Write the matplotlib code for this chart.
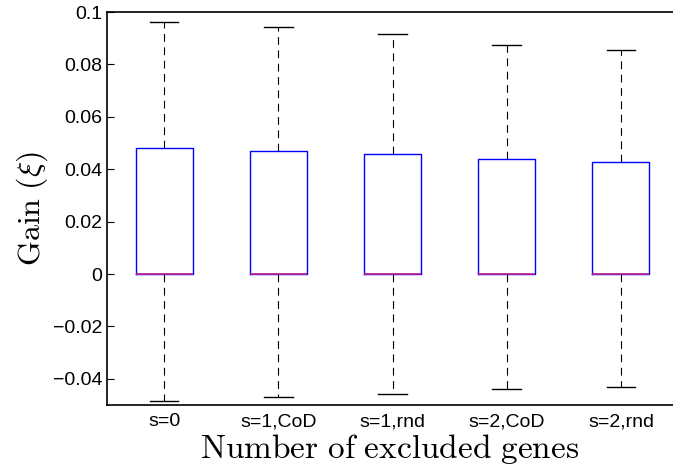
import numpy as np
import matplotlib
matplotlib.use("Agg")
import matplotlib.pyplot as plt

# box statistics
labels = ["s=0", "s=1,CoD", "s=1,rnd", "s=2,CoD", "s=2,rnd"]
whis_hi = [0.0963, 0.0944, 0.0916, 0.0875, 0.0854]
q3 = [0.0480, 0.0471, 0.0457, 0.0438, 0.0427]
med = [0.0, 0.0, 0.0, 0.0, 0.0]
q1 = [0.0, 0.0, 0.0, 0.0, 0.0]
whis_lo = [-0.0485, -0.0471, -0.0457, -0.0440, -0.0430]

plt.rcParams['font.family'] = ['Liberation Sans', 'DejaVu Sans']
plt.rcParams['mathtext.fontset'] = 'cm'

stats = []
for i in range(len(labels)):
    stats.append(dict(label=labels[i], whislo=whis_lo[i], q1=q1[i], med=med[i],
                      q3=q3[i], whishi=whis_hi[i], fliers=[]))

fig = plt.figure(figsize=(6.73, 4.65), dpi=100)
# the original is cropped on the right, so the axes run up to the edge
ax = fig.add_axes([107/673, 1 - 405/465, 566/673, 393/465])

ax.bxp(stats, positions=np.arange(1, 6), widths=0.5, showfliers=False,
       boxprops=dict(color='blue', linewidth=1),
       medianprops=dict(color='#c0208a', linewidth=1.2),
       whiskerprops=dict(color='black', linestyle=(0, (7, 5)), linewidth=0.8),
       capprops=dict(color='black', linewidth=1),
       capwidths=0.25)

ax.set_xlim(0.5, 5.456)
ax.set_ylim(-0.05, 0.1)
ax.set_yticks([-0.04, -0.02, 0, 0.02, 0.04, 0.06, 0.08, 0.1])
ax.set_yticklabels(['\u22120.04', '\u22120.02', '0', '0.02', '0.04', '0.06', '0.08', '0.1'])
ax.tick_params(direction='in', length=5, labelsize=14, width=0.8)
ax.tick_params(axis='y', right=False, left=True)
ax.tick_params(axis='x', length=0, pad=6, top=False)
ax.spines['right'].set_visible(False)
for sp in ax.spines.values():
    sp.set_linewidth(1.2)

ax.set_xlabel(r'$\mathrm{Number\ of\ excluded\ genes}$', fontsize=24, labelpad=1)
ax.set_ylabel(r'$\mathrm{Gain}\ (\xi)$', fontsize=23, labelpad=2)

fig.savefig('out.png', dpi=100)
